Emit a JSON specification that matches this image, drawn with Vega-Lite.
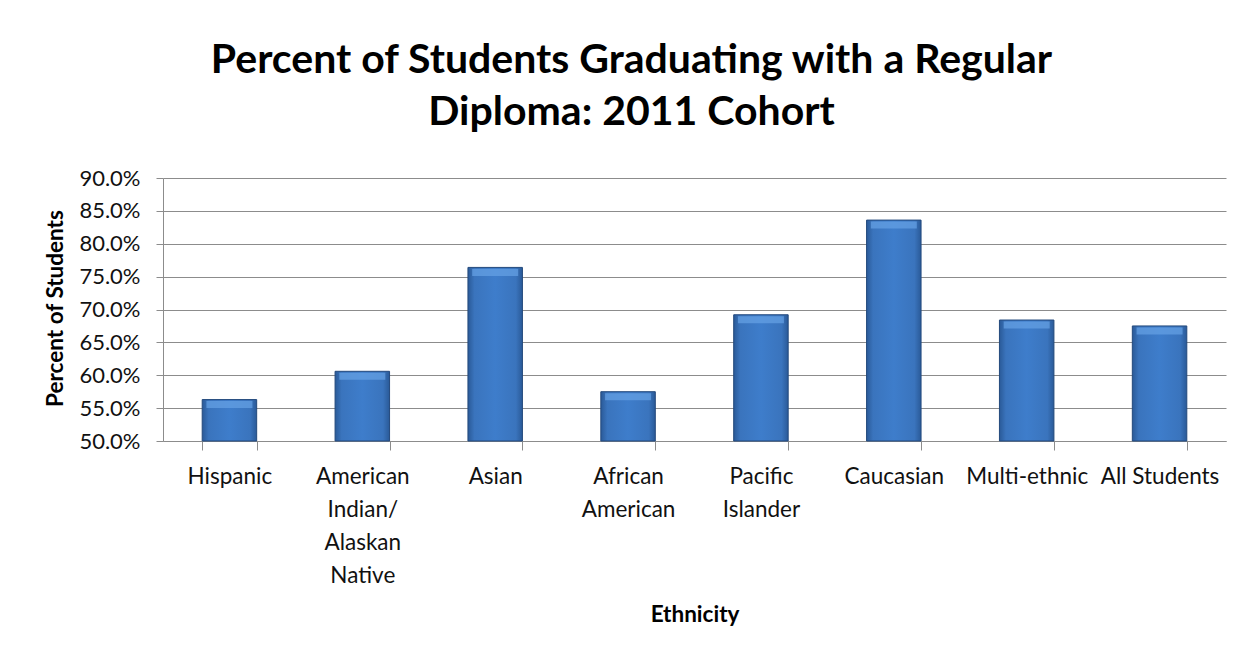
{
  "$schema": "https://vega.github.io/schema/vega-lite/v6.json",
  "width": 1063,
  "height": 263,
  "autosize": {"type": "none"},
  "padding": {"left": 163, "top": 178, "right": 26, "bottom": 217},
  "background": "white",
  "config": {"view": {"stroke": null}},
  "title": {
    "text": ["Percent of Students Graduating with a Regular", "Diploma: 2011 Cohort"],
    "font": "Lato",
    "fontSize": 41,
    "fontWeight": "bold",
    "color": "black",
    "anchor": "middle",
    "dx": -63,
    "offset": 33,
    "lineHeight": 52
  },
  "data": {
    "values": [
      {"ethnicity": "Hispanic", "rate": 0.563},
      {"ethnicity": "American Indian/ Alaskan Native", "rate": 0.606},
      {"ethnicity": "Asian", "rate": 0.764},
      {"ethnicity": "African American", "rate": 0.575},
      {"ethnicity": "Pacific Islander", "rate": 0.692},
      {"ethnicity": "Caucasian", "rate": 0.836},
      {"ethnicity": "Multi-ethnic", "rate": 0.684},
      {"ethnicity": "All Students", "rate": 0.675}
    ]
  },
  "encoding": {
    "x": {
      "field": "ethnicity",
      "type": "nominal",
      "sort": null,
      "scale": {"paddingInner": 0.59, "paddingOuter": 0.295},
      "axis": {
        "title": "Ethnicity",
        "titleFont": "Lato",
        "titleFontSize": 22.5,
        "titleFontWeight": "bold",
        "titleColor": "black",
        "titleY": 173,
        "titleBaseline": "middle",
        "labelAngle": 0,
        "labelFont": "Lato",
        "labelFontSize": 22.5,
        "labelColor": "#111111",
        "labelBaseline": "top",
        "labelPadding": 15,
        "labelLineHeight": 33,
        "labelOverlap": false,
        "labelLimit": 300,
        "labelExpr": "datum.value == 'American Indian/ Alaskan Native' ? ['American', 'Indian/', 'Alaskan', 'Native'] : datum.value == 'African American' ? ['African', 'American'] : datum.value == 'Pacific Islander' ? ['Pacific', 'Islander'] : datum.value",
        "tickBand": "extent",
        "tickSize": 9,
        "tickColor": "#8c8c8c",
        "domainColor": "#8c8c8c",
        "grid": false
      }
    },
    "y": {
      "field": "rate",
      "type": "quantitative",
      "scale": {"domain": [0.5, 0.9], "zero": false},
      "axis": {
        "title": "Percent of Students",
        "titleFont": "Lato",
        "titleFontSize": 22.5,
        "titleFontWeight": "bold",
        "titleColor": "black",
        "titleX": -108,
        "titleY": 130,
        "titleAngle": -90,
        "titleAlign": "center",
        "titleBaseline": "middle",
        "values": [0.5, 0.55, 0.6, 0.65, 0.7, 0.75, 0.8, 0.85, 0.9],
        "format": ".1%",
        "labelFont": "Lato",
        "labelFontSize": 22,
        "labelColor": "#111111",
        "labelPadding": 16,
        "tickSize": 7,
        "tickColor": "#8c8c8c",
        "domainColor": "#8c8c8c",
        "gridColor": "#8c8c8c",
        "gridOpacity": 1
      }
    }
  },
  "layer": [
    {
      "mark": {
        "type": "bar",
        "stroke": "#23497c",
        "strokeWidth": 1,
        "color": {
          "gradient": "linear",
          "x1": 0, "y1": 0, "x2": 1, "y2": 0,
          "stops": [
            {"offset": 0, "color": "#2a5a98"},
            {"offset": 0.12, "color": "#3a74bd"},
            {"offset": 0.5, "color": "#3e7dcb"},
            {"offset": 0.88, "color": "#3a74bd"},
            {"offset": 1, "color": "#2a5a98"}
          ]
        }
      },
      "encoding": {"y2": {"datum": 0.5}}
    },
    {
      "mark": {
        "type": "tick",
        "orient": "horizontal",
        "color": "#67a3e6",
        "thickness": 7,
        "size": 46,
        "yOffset": 5
      }
    }
  ]
}
